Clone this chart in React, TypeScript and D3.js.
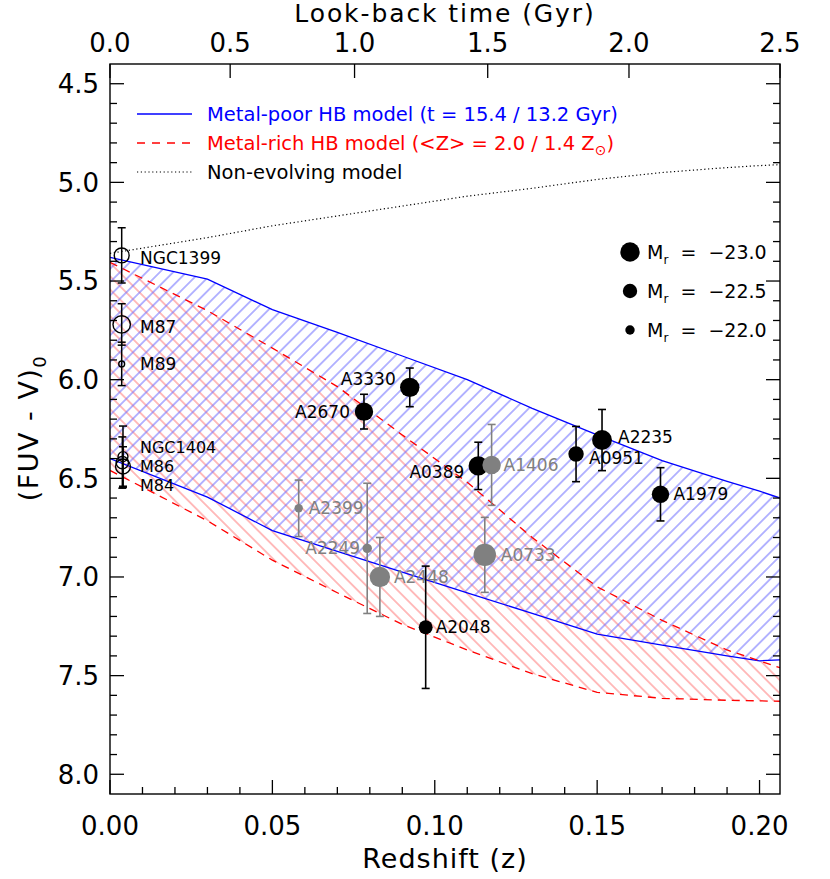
import React from "react";
import * as d3 from "d3";

// ---------- data ----------
const zDomain = [0, 0.2063];
const colorDomain = [4.4, 8.1];

const xTickValues = [0, 0.05, 0.1, 0.15, 0.2];
const xTickLabels = ["0.00", "0.05", "0.10", "0.15", "0.20"];
const yTickValues = [4.5, 5.0, 5.5, 6.0, 6.5, 7.0, 7.5, 8.0];
const yTickLabels = ["4.5", "5.0", "5.5", "6.0", "6.5", "7.0", "7.5", "8.0"];
const lookbackTickLabels = ["0.0", "0.5", "1.0", "1.5", "2.0", "2.5"];
const lookbackTickZ = [0, 0.037, 0.0753, 0.1163, 0.1598, 0.2063];

// model grid (redshift) and model colours
const modelZ = [0, 0.03, 0.05, 0.07, 0.09, 0.11, 0.13, 0.15, 0.17, 0.19, 0.2, 0.2063];
const metalPoorUpper = [5.38, 5.49, 5.645, 5.76, 5.88, 6.0, 6.145, 6.28, 6.41, 6.515, 6.565, 6.6];
const metalPoorLower = [6.4, 6.595, 6.765, 6.87, 6.975, 7.08, 7.185, 7.29, 7.345, 7.4, 7.425, 7.42];
const metalRichUpper = [5.405, 5.65, 5.84, 6.035, 6.28, 6.52, 6.8, 7.05, 7.22, 7.37, 7.425, 7.46];
const metalRichLower = [6.46, 6.715, 6.915, 7.08, 7.24, 7.37, 7.49, 7.585, 7.615, 7.625, 7.628, 7.63];
const nonEvolving = [5.36, 5.28, 5.22, 5.17, 5.12, 5.07, 5.03, 4.985, 4.95, 4.925, 4.915, 4.91];

// nearby galaxies (open circles)
const nearbyNames = ["NGC1399", "M87", "M89", "NGC1404", "M86", "M84"];
const nearbyZ = [0.0036, 0.0036, 0.0036, 0.004, 0.004, 0.0038];
const nearbyColour = [5.37, 5.72, 5.92, 6.39, 6.44, 6.42];
const nearbyErr = [0.14, 0.105, 0.11, 0.155, 0.1, 0.13];
const nearbyMr = [-22.55, -22.8, -21.65, -22.05, -22.55, -22.3];

// clusters (filled circles)
const clusterNames = ["A2670", "A3330", "A0389", "A1406", "A2399", "A2249", "A2448", "A2048", "A0733", "A0951", "A2235", "A1979"];
const clusterZ = [0.0782, 0.0923, 0.1134, 0.1175, 0.0581, 0.0792, 0.0831, 0.0972, 0.1154, 0.1435, 0.1515, 0.1695];
const clusterColour = [6.162, 6.039, 6.437, 6.432, 6.652, 6.855, 7.0, 7.255, 6.888, 6.377, 6.306, 6.581];
const clusterErr = [0.088, 0.098, 0.12, 0.205, 0.143, 0.33, 0.2, 0.31, 0.19, 0.14, 0.155, 0.135];
const clusterMr = [-22.9, -23.0, -23.0, -22.9, -21.9, -22.0, -23.1, -22.45, -23.3, -22.6, -23.05, -22.8];
const clusterGrey = [false, false, false, true, true, true, true, false, true, false, false, false];

const legendMr = [-23.0, -22.5, -22.0];
const legendMrLabels = ["\u221223.0", "\u221222.5", "\u221222.0"];

// ---------- layout ----------
const W = 830;
const H = 879;
const PL = 110, PR = 780, PT = 64, PB = 794;
const FONT = "'DejaVu Sans', sans-serif";
const GREY = "#808080";

// label placement: [dx, dy, anchor]
const clusterLabelPos: [number, number, string][] = [
  [-14, 0, "end"], [-14, -8, "end"], [-14, 6, "end"], [12, 0, "start"],
  [10, 0, "start"], [-7, 0, "end"], [14, 0, "start"], [10, 0, "start"],
  [16, 0, "start"], [13, 4, "start"], [16, -3, "start"], [13, 0, "start"],
];
const nearbyLabelX = 140;
const nearbyLabelY = [258, 327, 364, 447, 466, 485];
const nearbyLabelSize = [17, 17, 17, 16, 16, 16];

export default function App() {
  const x = d3.scaleLinear().domain(zDomain).range([PL, PR]);
  const y = d3.scaleLinear().domain(colorDomain).range([PT, PB]);
  const rad = d3.scaleLinear().domain([-22, -23]).range([4.7, 9.7]);

  const line = d3
    .line<[number, number]>()
    .x((d) => x(d[0]))
    .y((d) => y(d[1]));
  const pts = (vals: number[]) => modelZ.map((z, i) => [z, vals[i]] as [number, number]);
  const band = (up: number[], lo: number[]) => (line([...pts(up), ...pts(lo).reverse()]) || "") + "Z";

  const xMinor = d3.range(1, 21).map((i) => i / 100).filter((v) => Math.round(v * 100) % 5 !== 0);
  const yMinor = d3.range(45, 81).map((i) => i / 10).filter((v) => Math.round(v * 10) % 5 !== 0);

  const tickStroke = { stroke: "#000", strokeWidth: 1.3 };

  return (
    <svg
      width={W}
      height={H}
      style={{ position: "absolute", left: 0, top: 0, background: "#fff" }}
      fontFamily={FONT}
    >
      <defs>
        <clipPath id="plotClip">
          <rect x={PL} y={PT} width={PR - PL} height={PB - PT} />
        </clipPath>
        <pattern id="hatchBlue" patternUnits="userSpaceOnUse" width={9.4} height={9.4} patternTransform="rotate(45)">
          <line x1={4.7} y1={0} x2={4.7} y2={9.4} stroke="#6c6cff" strokeWidth={1} />
        </pattern>
        <pattern id="hatchRed" patternUnits="userSpaceOnUse" width={9.4} height={9.4} patternTransform="rotate(-45)">
          <line x1={4.7} y1={0} x2={4.7} y2={9.4} stroke="#ff7a7a" strokeWidth={1} />
        </pattern>
      </defs>
      <rect x={0} y={0} width={W} height={H} fill="#fff" />

      <g clipPath="url(#plotClip)">
        <path d={band(metalRichUpper, metalRichLower)} fill="url(#hatchRed)" stroke="none" />
        <path d={band(metalPoorUpper, metalPoorLower)} fill="url(#hatchBlue)" stroke="none" />
        <path d={line(pts(metalPoorUpper)) || ""} fill="none" stroke="#0000ff" strokeWidth={1.3} />
        <path d={line(pts(metalPoorLower)) || ""} fill="none" stroke="#0000ff" strokeWidth={1.3} />
        <path d={line(pts(metalRichUpper)) || ""} fill="none" stroke="#ff0000" strokeWidth={1.3} strokeDasharray="8,6" />
        <path d={line(pts(metalRichLower)) || ""} fill="none" stroke="#ff0000" strokeWidth={1.3} strokeDasharray="8,6" />
        <path d={line(pts(nonEvolving)) || ""} fill="none" stroke="#000" strokeWidth={1.2} strokeDasharray="1.2,2.6" />
      </g>

      {/* nearby galaxies */}
      {nearbyNames.map((n, i) => {
        const cx = x(nearbyZ[i]);
        const cy = y(nearbyColour[i]);
        const y0 = y(nearbyColour[i] - nearbyErr[i]);
        const y1 = y(nearbyColour[i] + nearbyErr[i]);
        return (
          <g key={n}>
            <line x1={cx} x2={cx} y1={y0} y2={y1} stroke="#000" strokeWidth={1.5} />
            <line x1={cx - 4} x2={cx + 4} y1={y0} y2={y0} stroke="#000" strokeWidth={1.5} />
            <line x1={cx - 4} x2={cx + 4} y1={y1} y2={y1} stroke="#000" strokeWidth={1.5} />
            <circle cx={cx} cy={cy} r={rad(nearbyMr[i])} fill="none" stroke="#000" strokeWidth={1.4} />
            <text x={nearbyLabelX} y={nearbyLabelY[i]} dy="0.36em" fontSize={nearbyLabelSize[i]} fill="#000">
              {n}
            </text>
          </g>
        );
      })}

      {/* clusters */}
      {clusterNames.map((n, i) => {
        const col = clusterGrey[i] ? GREY : "#000";
        const cx = x(clusterZ[i]);
        const cy = y(clusterColour[i]);
        const y0 = y(clusterColour[i] - clusterErr[i]);
        const y1 = y(clusterColour[i] + clusterErr[i]);
        const [dx, dy, anchor] = clusterLabelPos[i];
        return (
          <g key={n}>
            <line x1={cx} x2={cx} y1={y0} y2={y1} stroke={col} strokeWidth={1.6} />
            <line x1={cx - 4} x2={cx + 4} y1={y0} y2={y0} stroke={col} strokeWidth={1.6} />
            <line x1={cx - 4} x2={cx + 4} y1={y1} y2={y1} stroke={col} strokeWidth={1.6} />
            <circle cx={cx} cy={cy} r={rad(clusterMr[i])} fill={col} />
            <text
              x={cx + dx}
              y={cy + dy}
              dy="0.36em"
              fontSize={17}
              fill={col}
              textAnchor={anchor as any}
            >
              {n}
            </text>
          </g>
        );
      })}

      {/* frame */}
      <rect x={PL} y={PT} width={PR - PL} height={PB - PT} fill="none" stroke="#000" strokeWidth={1.4} />

      {/* bottom axis */}
      {xTickValues.map((v, i) => (
        <g key={"xt" + i}>
          <line x1={x(v)} x2={x(v)} y1={PB} y2={PB - 14} {...tickStroke} />
          <text x={x(v)} y={826} dy="0.36em" textAnchor="middle" fontSize={26}>
            {xTickLabels[i]}
          </text>
        </g>
      ))}
      {xMinor.map((v, i) => (
        <line key={"xm" + i} x1={x(v)} x2={x(v)} y1={PB} y2={PB - 7} {...tickStroke} />
      ))}
      <text x={(PL + PR) / 2} y={858} dy="0.36em" textAnchor="middle" fontSize={27} letterSpacing={1}>
        Redshift (z)
      </text>

      {/* top axis: look-back time */}
      {lookbackTickZ.map((z, i) => (
        <g key={"tt" + i}>
          <line x1={x(z)} x2={x(z)} y1={PT} y2={PT + 14} {...tickStroke} />
          <text x={x(z)} y={43} dy="0.36em" textAnchor="middle" fontSize={26}>
            {lookbackTickLabels[i]}
          </text>
        </g>
      ))}
      <text x={(PL + PR) / 2} y={13} dy="0.36em" textAnchor="middle" fontSize={25} letterSpacing={1.9}>
        Look-back time (Gyr)
      </text>

      {/* left & right axes */}
      {yTickValues.map((v, i) => (
        <g key={"yt" + i}>
          <line x1={PL} x2={PL + 14} y1={y(v)} y2={y(v)} {...tickStroke} />
          <line x1={PR} x2={PR - 14} y1={y(v)} y2={y(v)} {...tickStroke} />
          <text x={99} y={y(v)} dy="0.36em" textAnchor="end" fontSize={26}>
            {yTickLabels[i]}
          </text>
        </g>
      ))}
      {yMinor.map((v, i) => (
        <g key={"ym" + i}>
          <line x1={PL} x2={PL + 7} y1={y(v)} y2={y(v)} {...tickStroke} />
          <line x1={PR} x2={PR - 7} y1={y(v)} y2={y(v)} {...tickStroke} />
        </g>
      ))}
      <text transform="translate(28,428) rotate(-90)" textAnchor="middle" dy="0.36em" fontSize={27} letterSpacing={1.5}>
        (FUV - V)
        <tspan fontSize={18} dy="8">0</tspan>
      </text>

      {/* model legend */}
      <line x1={137} x2={192} y1={114} y2={114} stroke="#0000ff" strokeWidth={1.3} />
      <text x={207} y={114} dy="0.36em" fontSize={19.5} fill="#0000ff">
        Metal-poor HB model (t = 15.4 / 13.2 Gyr)
      </text>
      <line x1={137} x2={192} y1={143} y2={143} stroke="#ff0000" strokeWidth={1.3} strokeDasharray="8,7" />
      <text x={207} y={143} dy="0.36em" fontSize={19.5} fill="#ff0000">
        {"Metal-rich HB model (<Z> = 2.0 / 1.4 Z"}
        <tspan fontSize={14} dy="5">⊙</tspan>
        <tspan dy="-5">)</tspan>
      </text>
      <line x1={137} x2={192} y1={172} y2={172} stroke="#000" strokeWidth={1.2} strokeDasharray="1.2,2.6" />
      <text x={207} y={172} dy="0.36em" fontSize={19.5} fill="#000">
        Non-evolving model
      </text>

      {/* magnitude legend */}
      {legendMr.map((m, i) => {
        const cy = 252 + i * 39;
        return (
          <g key={"lm" + i}>
            <circle cx={630} cy={cy} r={rad(m)} fill="#000" />
            <text x={647} y={cy} dy="0.36em" fontSize={19} fill="#000" style={{ whiteSpace: "pre" }}>
              M<tspan fontSize={12} dy="5">r</tspan>
              <tspan dy="-5">{"  =  " + legendMrLabels[i]}</tspan>
            </text>
          </g>
        );
      })}
    </svg>
  );
}
